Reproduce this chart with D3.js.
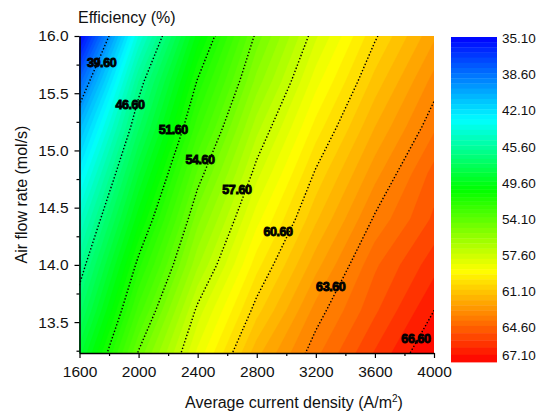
<!DOCTYPE html>
<html>
<head>
<meta charset="utf-8">
<script src="https://cdn.jsdelivr.net/npm/d3@7"></script>
<style>
  body { margin: 0; background: #fff; }
  text { font-family: Arial, "Liberation Sans", sans-serif; fill: #111; }
  .axis path, .axis line { stroke: #000; }
  .axis path { stroke-width: 1.5; }
</style>
</head>
<body>
<svg id="chart" width="544" height="416"></svg>
<script>
// efficiency surface on a coarse grid
var xGrid = [1600, 2000, 2400, 2800, 3200, 3600, 4000];
var yGrid = [16.0, 15.6, 15.2, 14.8, 14.4, 14.0, 13.6, 13.2];
var efficiency = [
  35.1, 44.1, 50.3, 54.8, 58.0, 60.5, 62.5,
  38.3, 46.1, 51.7, 55.8, 58.9, 61.3, 63.3,
  40.9, 47.5, 52.9, 56.9, 59.8, 62.1, 64.0,
  42.8, 49.0, 54.2, 57.9, 60.7, 62.9, 64.8,
  44.5, 50.4, 55.4, 58.9, 61.5, 63.7, 65.2,
  46.0, 51.9, 56.5, 59.9, 62.4, 64.5, 65.9,
  47.4, 53.3, 57.8, 60.9, 63.3, 65.0, 66.6,
  49.0, 54.8, 58.8, 62.0, 64.0, 65.7, 67.3
];

// labelled contour lines and where their labels sit
var lineLevels = [39.6, 46.6, 51.6, 54.6, 57.6, 60.6, 63.6, 66.6];
var labelX = [1750, 1942, 2235, 2416, 2666, 2944, 3301, 3878];
var labelY = [15.77, 15.40, 15.18, 14.925, 14.66, 14.29, 13.815, 13.354];

var xTicks = [1600, 2000, 2400, 2800, 3200, 3600, 4000];
var xMinor = [1800, 2200, 2600, 3000, 3400, 3800];
var yTicks = [13.5, 14.0, 14.5, 15.0, 15.5, 16.0];
var yMinor = [13.25, 13.75, 14.25, 14.75, 15.25, 15.75];
var cbTicks = [35.1, 38.6, 42.1, 45.6, 49.6, 54.1, 57.6, 61.1, 64.6, 67.1];
var bandStep = 0.5;

var plot = { left: 79.5, right: 434, top: 36, bottom: 353 };
var cb = { left: 451, right: 497, top: 37, bottom: 362 };

var svg = d3.select('#chart');

var x = d3.scaleLinear().domain([1600, 4000]).range([plot.left, plot.right]);
var y = d3.scaleLinear().domain([13.23, 16.0]).range([plot.bottom, plot.top]);

// colour bar uses evenly spaced labels, so value -> position is piecewise
var cbScale = d3.scaleLinear()
  .domain(cbTicks)
  .range(d3.quantize(d3.interpolate(cb.top, cb.bottom), cbTicks.length));
var rainbow = d3.scaleLinear()
  .domain([0, 0.256, 0.47, 0.72, 1])
  .range(['#0000ff', '#00ffff', '#00ff00', '#ffff00', '#ff0000']);
function colour(v) {
  return rainbow((cbScale(v) - cb.top) / (cb.bottom - cb.top));
}

var nBands = Math.round((cbTicks[cbTicks.length - 1] - cbTicks[0]) / bandStep);
var bands = d3.range(nBands).map(function(i) {
  return +(cbTicks[0] + i * bandStep).toFixed(2);
});

// grid index -> data coords -> pixels
var dxg = xGrid[1] - xGrid[0], dyg = yGrid[1] - yGrid[0];
var gridProj = d3.geoTransform({
  point: function(px, py) {
    this.stream.point(x(xGrid[0] + (px - 0.5) * dxg), y(yGrid[0] + (py - 0.5) * dyg));
  }
});
var path = d3.geoPath(gridProj);

svg.append('clipPath').attr('id', 'plotclip')
  .append('rect')
  .attr('x', plot.left).attr('y', plot.top)
  .attr('width', plot.right - plot.left).attr('height', plot.bottom - plot.top);

var field = svg.append('g').attr('clip-path', 'url(#plotclip)');

field.append('rect')
  .attr('x', plot.left).attr('y', plot.top)
  .attr('width', plot.right - plot.left).attr('height', plot.bottom - plot.top)
  .attr('fill', colour(bands[0] + bandStep / 2));

var filled = d3.contours().size([xGrid.length, yGrid.length]).thresholds(bands)(efficiency);
field.selectAll('path.band')
  .data(filled)
  .enter()
  .append('path')
  .attr('class', 'band')
  .attr('d', path)
  .attr('fill', function(d) { return colour(d.value + bandStep / 2); })
  .attr('stroke', function(d) { return colour(d.value + bandStep / 2); })
  .attr('stroke-width', 0.5);

var lines = d3.contours().size([xGrid.length, yGrid.length]).thresholds(lineLevels)(efficiency);
field.selectAll('path.iso')
  .data(lines)
  .enter()
  .append('path')
  .attr('class', 'iso')
  .attr('d', path)
  .attr('fill', 'none')
  .attr('stroke', '#000')
  .attr('stroke-width', 1.4)
  .attr('stroke-dasharray', '1.4,2');

svg.selectAll('text.lvl')
  .data(lineLevels)
  .enter()
  .append('text')
  .attr('class', 'lvl')
  .attr('x', function(d, i) { return x(labelX[i]); })
  .attr('y', function(d, i) { return y(labelY[i]); })
  .attr('dy', '0.36em')
  .attr('text-anchor', 'middle')
  .style('font-size', '12.5px')
  .style('font-weight', 'bold')
  .style('letter-spacing', '-0.4px')
  .style('fill', '#000')
  .style('stroke', '#000')
  .style('stroke-width', 0.9)
  .text(function(d) { return d.toFixed(2); });

// axes
svg.append('g').attr('class', 'axis')
  .attr('transform', 'translate(0,' + plot.bottom + ')')
  .call(d3.axisBottom(x).tickValues(xTicks).tickSize(5).tickSizeOuter(0).tickPadding(8).tickFormat(d3.format('d')));
svg.append('g').attr('class', 'axis')
  .attr('transform', 'translate(0,' + plot.bottom + ')')
  .call(d3.axisBottom(x).tickValues(xMinor).tickSize(3).tickSizeOuter(0).tickFormat(''))
  .select('.domain').remove();

svg.append('g').attr('class', 'axis')
  .attr('transform', 'translate(' + plot.left + ',0)')
  .call(d3.axisLeft(y).tickValues(yTicks).tickSize(5).tickSizeOuter(0).tickPadding(6).tickFormat(d3.format('.1f')));
svg.append('g').attr('class', 'axis')
  .attr('transform', 'translate(' + plot.left + ',0)')
  .call(d3.axisLeft(y).tickValues(yMinor).tickSize(3).tickSizeOuter(0).tickFormat(''))
  .select('.domain').remove();

svg.selectAll('.axis text').style('font-size', '15.5px').style('fill', '#111');
svg.selectAll('.axis line').attr('stroke-width', 1.2);

// colour bar
svg.append('g').selectAll('rect')
  .data(bands)
  .enter()
  .append('rect')
  .attr('x', cb.left)
  .attr('width', cb.right - cb.left)
  .attr('y', function(d) { return cbScale(d); })
  .attr('height', function(d) { return cbScale(d + bandStep) - cbScale(d) + 0.4; })
  .attr('fill', function(d) { return colour(d + bandStep / 2); });

svg.append('g').selectAll('text')
  .data(cbTicks)
  .enter()
  .append('text')
  .attr('x', cb.right + 5)
  .attr('y', function(d) { return Math.min(cbScale(d) + 1.5, cb.bottom - 7); })
  .attr('dy', '0.35em')
  .style('font-size', '13.5px')
  .text(function(d) { return d.toFixed(2); });

// titles
svg.append('text')
  .attr('x', 78).attr('y', 23)
  .style('font-size', '16px')
  .text('Efficiency (%)');

var xt = svg.append('text')
  .attr('x', 294).attr('y', 408)
  .attr('text-anchor', 'middle')
  .style('font-size', '16px')
  .text('Average current density (A/m');
xt.append('tspan').attr('dy', -6).style('font-size', '10px').text('2');
xt.append('tspan').attr('dy', 6).text(')');

svg.append('text')
  .attr('transform', 'translate(27,' + (plot.top + plot.bottom) / 2 + ') rotate(-90)')
  .attr('text-anchor', 'middle')
  .style('font-size', '16px')
  .text('Air flow rate (mol/s)');
</script>
</body>
</html>
